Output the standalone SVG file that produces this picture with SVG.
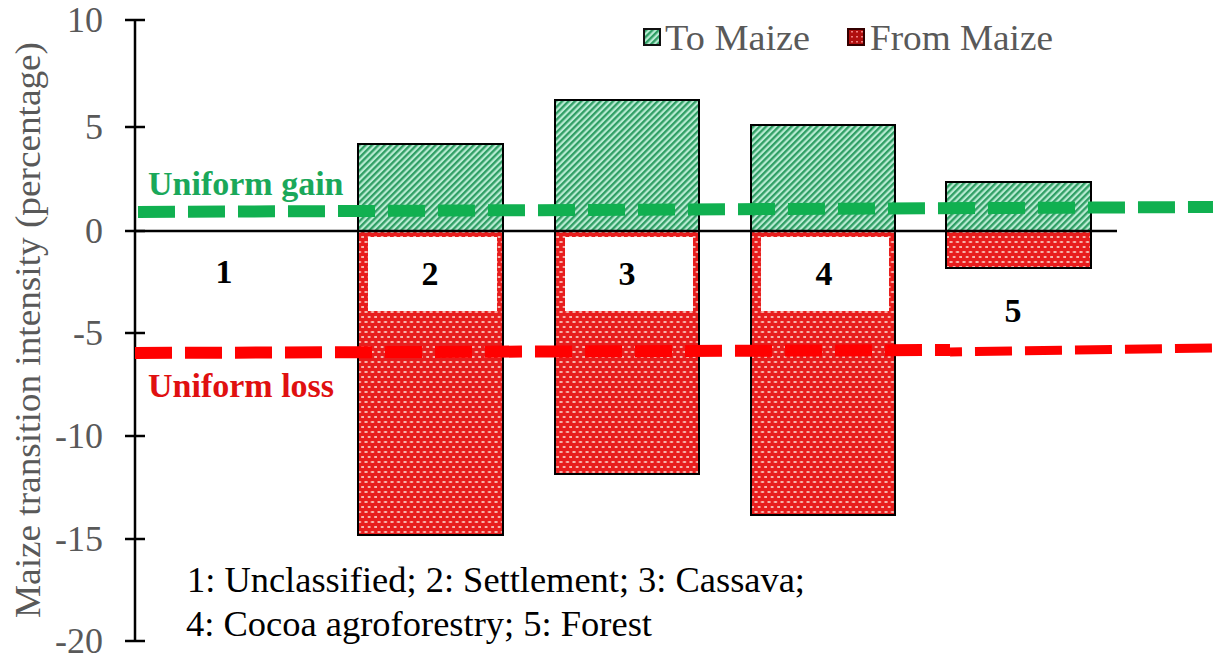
<svg xmlns="http://www.w3.org/2000/svg" width="1221" height="660" viewBox="0 0 1221 660">
<defs>
<pattern id="pg" width="4.5" height="4.5" patternUnits="userSpaceOnUse" patternTransform="rotate(45)">
<rect width="4.5" height="4.5" fill="#b9ecd3"/>
<rect width="2.3" height="4.5" fill="#2f9e64"/>
</pattern>
<pattern id="pr" width="6.5" height="10" patternUnits="userSpaceOnUse">
<rect width="6.5" height="10" fill="#e81d1d"/>
<rect x="0.5" y="1" width="3" height="2" fill="#f7b4ac"/>
<rect x="3.75" y="6" width="3" height="2" fill="#f7b4ac"/>
</pattern>
<pattern id="prs" width="5" height="5" patternUnits="userSpaceOnUse">
<rect width="5" height="5" fill="#b00f0f"/>
<rect x="1" y="1" width="2" height="1.5" fill="#f08080"/>
</pattern>
</defs>
<style>
text{font-family:"Liberation Serif","Times New Roman",Tinos,"DejaVu Serif",serif}
.tick{font-size:36px;fill:#595959;text-anchor:end}
.lab{font-size:34px;font-weight:bold;fill:#000;text-anchor:middle}
.leg{font-size:36px;fill:#595959}
.note{font-size:36px;fill:#000}
.bar{stroke:#000;stroke-width:2}
</style>
<rect width="1221" height="660" fill="#fff"/>

<g id="bar2">
<rect class="bar" x="358" y="144" width="145" height="87" fill="url(#pg)"/>
<rect class="bar" x="358" y="231" width="145" height="304" fill="url(#pr)"/>
<rect x="368" y="237" width="129" height="74" fill="#fff"/>
</g>
<g id="bar3">
<rect class="bar" x="555" y="100" width="144" height="131" fill="url(#pg)"/>
<rect class="bar" x="555" y="231" width="144" height="243" fill="url(#pr)"/>
<rect x="565" y="237" width="128" height="74" fill="#fff"/>
</g>
<g id="bar4">
<rect class="bar" x="751" y="125" width="144" height="106" fill="url(#pg)"/>
<rect class="bar" x="751" y="231" width="144" height="284" fill="url(#pr)"/>
<rect x="761" y="237" width="128" height="74" fill="#fff"/>
</g>
<g id="bar5">
<rect class="bar" x="946" y="182" width="145" height="49" fill="url(#pg)"/>
<rect class="bar" x="946" y="231" width="145" height="37" fill="url(#pr)"/>
</g>

<g id="axes" stroke="#000" stroke-width="2.5">
<line x1="135" y1="20" x2="135" y2="641"/>
<line x1="125" y1="20" x2="145" y2="20"/>
<line x1="125" y1="127" x2="145" y2="127"/>
<line x1="125" y1="231" x2="145" y2="231"/>
<line x1="125" y1="333" x2="145" y2="333"/>
<line x1="125" y1="436" x2="145" y2="436"/>
<line x1="125" y1="539" x2="145" y2="539"/>
<line x1="125" y1="641" x2="145" y2="641"/>
<line x1="135" y1="231" x2="1117" y2="231"/>
</g>

<g id="connectors" fill="none">
<path d="M138 212 L1213 207" stroke="#10b050" stroke-width="12" stroke-dasharray="37 13"/>
<path d="M135 353 L950 350" stroke="#ff0000" stroke-width="12" stroke-dasharray="37 13"/>
<path d="M950 352 L1212 348" stroke="#ff0000" stroke-width="9" stroke-dasharray="12 13 37 13 37 13 37 13 37 13 37 13"/>
</g>

<g id="ticklabels">
<text class="tick" x="103" y="32">10</text>
<text class="tick" x="103" y="139">5</text>
<text class="tick" x="103" y="243">0</text>
<text class="tick" x="103" y="345">-5</text>
<text class="tick" x="103" y="448">-10</text>
<text class="tick" x="103" y="551">-15</text>
<text class="tick" x="103" y="653">-20</text>
</g>
<text id="ytitle" transform="translate(40,330) rotate(-90)" font-size="36" fill="#595959" text-anchor="middle" textLength="576" lengthAdjust="spacingAndGlyphs">Maize transition intensity (percentage)</text>

<g id="labels">
<text class="lab" x="224" y="283">1</text>
<text class="lab" x="430" y="285">2</text>
<text class="lab" x="627" y="285">3</text>
<text class="lab" x="824" y="285">4</text>
<text class="lab" x="1013" y="322">5</text>
</g>

<g id="uniform-gain"><text x="148" y="195" font-size="34" font-weight="bold" fill="#1aa85a">Uniform gain</text></g>
<g id="uniform-loss"><text x="148" y="397" font-size="34" font-weight="bold" fill="#e01010">Uniform loss</text></g>

<g id="legend">
<rect x="644" y="29" width="16" height="16" fill="url(#pg)" stroke="#111" stroke-width="2"/>
<text class="leg" x="665" y="50" textLength="145" lengthAdjust="spacingAndGlyphs">To Maize</text>
<rect x="848" y="29" width="16" height="16" fill="url(#prs)" stroke="#300" stroke-width="2"/>
<text class="leg" x="870" y="50" textLength="183" lengthAdjust="spacingAndGlyphs">From Maize</text>
</g>

<g id="note">
<text class="note" x="187" y="592" textLength="618" lengthAdjust="spacingAndGlyphs">1: Unclassified; 2: Settlement; 3: Cassava;</text>
<text class="note" x="186" y="636" textLength="466" lengthAdjust="spacingAndGlyphs">4: Cocoa agroforestry; 5: Forest</text>
</g>
</svg>
